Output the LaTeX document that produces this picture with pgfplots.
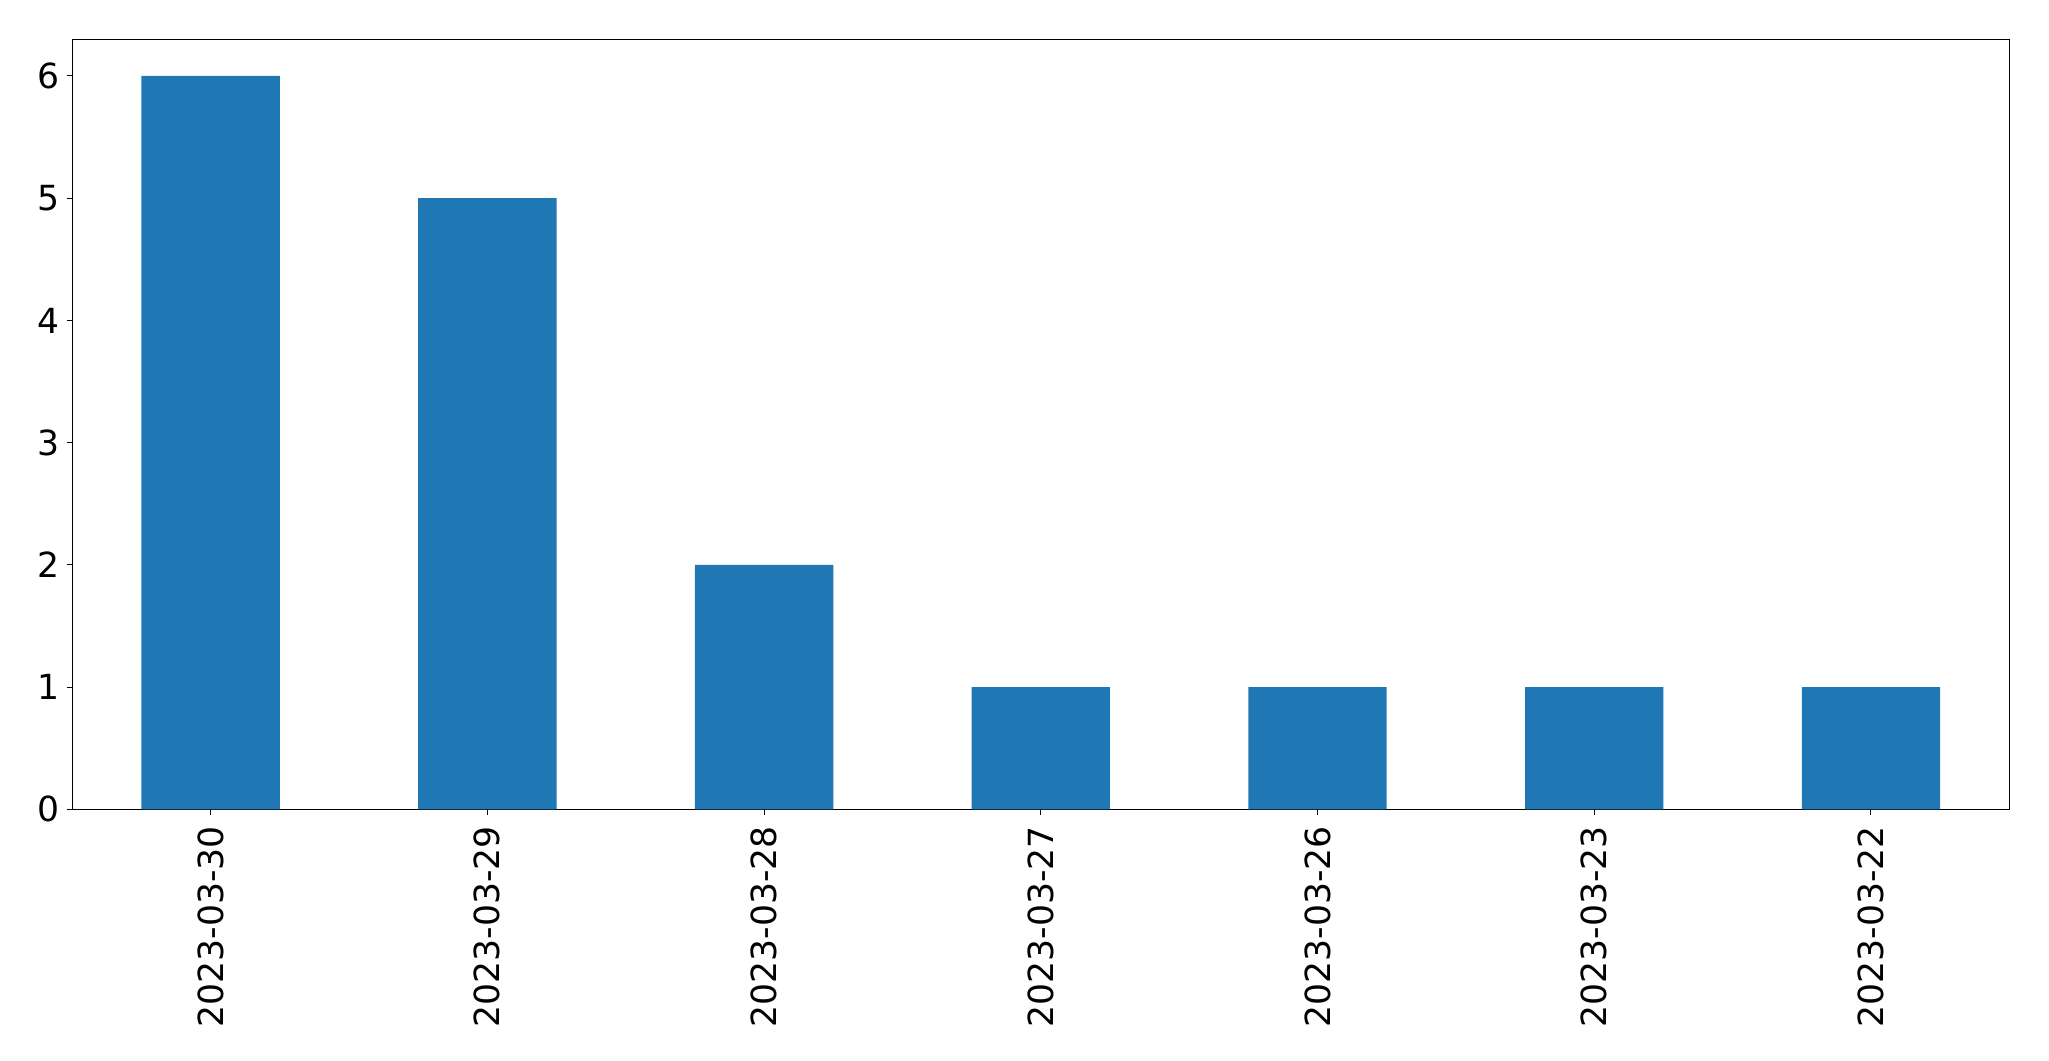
\documentclass[border=0pt]{standalone}
\usepackage{pgfplots}
\pgfplotsset{compat=1.18}
\usepackage{fontspec}
\setmainfont{DejaVu Sans}
\definecolor{barblue}{HTML}{1F77B4}
\begin{document}
\begin{tikzpicture}
\begin{axis}[
  name=ax,
  at={(0,0)}, anchor=south west,
  scale only axis,
  width=968.5pt, height=385pt,
  xmin=-0.5, xmax=6.5, ymin=0, ymax=6.3,
  xtick={0,1,2,3,4,5,6},
  xticklabels={2023-03-30,2023-03-29,2023-03-28,2023-03-27,2023-03-26,2023-03-23,2023-03-22},
  ytick={0,1,2,3,4,5,6},
  tick align=outside,
  major tick length=2.85pt,
  tick style={black, line width=0.5pt},
  axis line style={line width=0.5pt},
  xtick pos=bottom, ytick pos=left,
  /pgf/number format/assume math mode=true,
  tick label style={font=\fontsize{17.3}{20}\selectfont},
  yticklabel style={inner sep=0pt, anchor=east, xshift=-3.2pt},
  xticklabel style={inner sep=0pt, rotate=90, anchor=east, xshift=-5.5pt},
  ybar, bar width=0.5, bar shift=0pt,
]
\addplot[fill=barblue, draw=none] coordinates {(0,6) (1,5) (2,2) (3,1) (4,1) (5,1) (6,1)};
\end{axis}
\path (ax.south west) ++(-36.15pt,-125.85pt) coordinate (bl);
\path (ax.north east) ++(19.85pt,19.65pt) coordinate (tr);
\path (bl) rectangle (tr);
\end{tikzpicture}
\end{document}
